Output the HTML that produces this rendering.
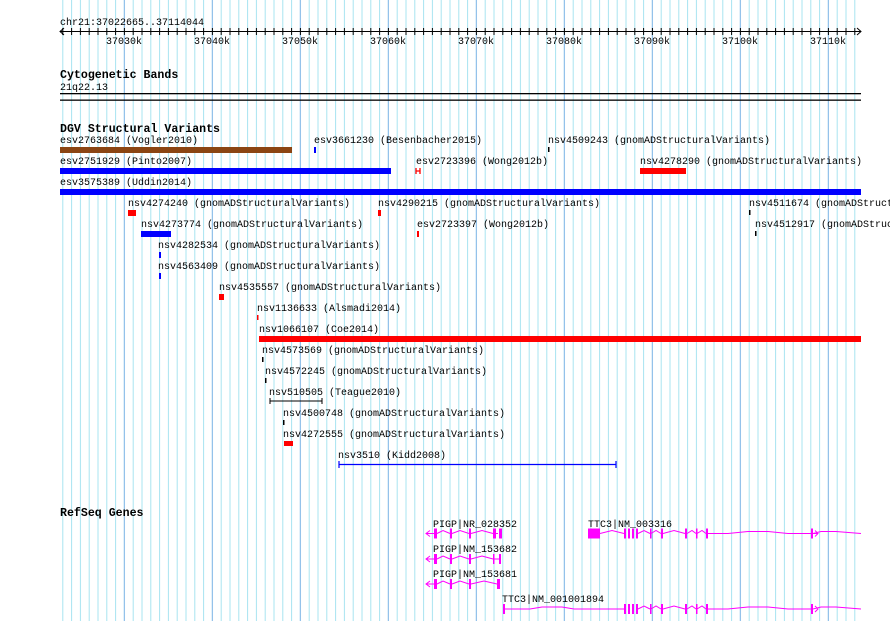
<!DOCTYPE html>
<html><head><meta charset="utf-8"><style>
html,body{margin:0;padding:0;background:#fff}
svg{display:block}
text{font-family:"Liberation Mono",monospace;font-size:10px;fill:#000}
.b{font-weight:bold;font-size:11.6px}
</style></head><body>
<svg width="890" height="621" xmlns="http://www.w3.org/2000/svg">
<defs>
<pattern id="minor" patternUnits="userSpaceOnUse" x="62.3" y="0" width="8.8" height="10"><rect x="0" y="0" width="1" height="10" fill="#a8e4f0"/></pattern>
<pattern id="major" patternUnits="userSpaceOnUse" x="123.8" y="0" width="88" height="10"><rect x="0" y="0" width="1" height="10" fill="#8ab8e8"/></pattern>
<pattern id="tick" patternUnits="userSpaceOnUse" x="62.3" y="0" width="8.8" height="10"><rect x="0" y="0" width="1" height="10" fill="#000"/></pattern>
</defs>
<rect x="60" y="0" width="801" height="621" fill="url(#minor)"/>
<rect x="60" y="0" width="801" height="621" fill="url(#major)"/>

<text x="60" y="25">chr21:37022665..37114044</text>
<rect x="60" y="31" width="801" height="1" fill="#000"/>
<rect x="62" y="28" width="797" height="7" fill="url(#tick)"/>
<path d="M64,28 L60,31.5 L64,35" stroke="#000" fill="none"/>
<path d="M857,28 L861,31.5 L857,35" stroke="#000" fill="none"/>
<g text-anchor="middle">
<text x="124" y="44">37030k</text><text x="212" y="44">37040k</text><text x="300" y="44">37050k</text>
<text x="388" y="44">37060k</text><text x="476" y="44">37070k</text><text x="564" y="44">37080k</text>
<text x="652" y="44">37090k</text><text x="740" y="44">37100k</text><text x="828" y="44">37110k</text>
</g>

<text class="b" x="60" y="78">Cytogenetic Bands</text>
<text x="60" y="90">21q22.13</text>
<rect x="60" y="93" width="801" height="1.3" fill="#000"/>
<rect x="60" y="99.5" width="801" height="1.3" fill="#000"/>

<text class="b" x="60" y="132">DGV Structural Variants</text>
<text x="60" y="143">esv2763684 (Vogler2010)</text>
<rect x="60" y="147" width="232" height="6" fill="#8b4513"/>
<text x="314" y="143">esv3661230 (Besenbacher2015)</text>
<rect x="314" y="147" width="2" height="6" fill="#0000ff"/>
<text x="548" y="143">nsv4509243 (gnomADStructuralVariants)</text>
<rect x="548" y="147" width="1.5" height="5" fill="#000"/>
<text x="60" y="164">esv2751929 (Pinto2007)</text>
<rect x="60" y="168" width="331" height="6" fill="#0000ff"/>
<text x="416" y="164">esv2723396 (Wong2012b)</text>
<path d="M416,168v6M420,168v6M416,171h4" stroke="#ff0000" stroke-width="1.3"/>
<text x="640" y="164">nsv4278290 (gnomADStructuralVariants)</text>
<rect x="640" y="168" width="46" height="6" fill="#ff0000"/>
<text x="60" y="185">esv3575389 (Uddin2014)</text>
<rect x="60" y="189" width="801" height="6" fill="#0000ff"/>
<text x="128" y="206">nsv4274240 (gnomADStructuralVariants)</text>
<rect x="128" y="210" width="8" height="6" fill="#ff0000"/>
<text x="378" y="206">nsv4290215 (gnomADStructuralVariants)</text>
<rect x="378" y="210" width="3" height="6" fill="#ff0000"/>
<text x="749" y="206">nsv4511674 (gnomADStructuralVariants)</text>
<rect x="749" y="210" width="1.5" height="5" fill="#000"/>
<text x="141" y="227">nsv4273774 (gnomADStructuralVariants)</text>
<rect x="141" y="231" width="30" height="6" fill="#0000ff"/>
<text x="417" y="227">esv2723397 (Wong2012b)</text>
<rect x="417" y="231" width="2" height="6" fill="#ff0000"/>
<text x="755" y="227">nsv4512917 (gnomADStructuralVariants)</text>
<rect x="755" y="231" width="1.5" height="5" fill="#000"/>
<text x="158" y="248">nsv4282534 (gnomADStructuralVariants)</text>
<rect x="159" y="252" width="2" height="6" fill="#0000ff"/>
<text x="158" y="269">nsv4563409 (gnomADStructuralVariants)</text>
<rect x="159" y="273" width="2" height="6" fill="#0000ff"/>
<text x="219" y="290">nsv4535557 (gnomADStructuralVariants)</text>
<rect x="219" y="294" width="5" height="6" fill="#ff0000"/>
<text x="257" y="311">nsv1136633 (Alsmadi2014)</text>
<rect x="257" y="315" width="1.5" height="5" fill="#ff0000"/>
<text x="259" y="332">nsv1066107 (Coe2014)</text>
<rect x="259" y="336" width="602" height="6" fill="#ff0000"/>
<text x="262" y="353">nsv4573569 (gnomADStructuralVariants)</text>
<rect x="262" y="357" width="1.5" height="5" fill="#000"/>
<text x="265" y="374">nsv4572245 (gnomADStructuralVariants)</text>
<rect x="265" y="378" width="1.5" height="5" fill="#000"/>
<text x="269" y="395">nsv510505 (Teague2010)</text>
<path d="M270,401h52M270,398v6M322,398v6" stroke="#000" stroke-width="1"/>
<text x="283" y="416">nsv4500748 (gnomADStructuralVariants)</text>
<rect x="283" y="420" width="1.5" height="5" fill="#000"/>
<text x="283" y="437">nsv4272555 (gnomADStructuralVariants)</text>
<rect x="284" y="441" width="9" height="5" fill="#ff0000"/>
<text x="338" y="458">nsv3510 (Kidd2008)</text>
<path d="M339,464.5h277M339,461v7M616,461v7" stroke="#0000ff" stroke-width="1.2"/>

<text class="b" x="60" y="516">RefSeq Genes</text>
<g fill="#ff00ff" stroke="#ff00ff">
<text x="433" y="527" style="fill:#000;stroke:none">PIGP|NR_028352</text>
<g transform="translate(0,533.5)" stroke-width="1">
<path d="M426,0h8M430,-3l-4,3l4,3" fill="none"/>
<path d="M437,0l6,-3l7,3M452,0l8,-3l9,3M471,0l11,-3l11,3M496,0h2" fill="none"/>
<rect x="434" y="-5" width="3" height="10" stroke="none"/><rect x="450" y="-5" width="2" height="10" stroke="none"/>
<rect x="469" y="-5" width="2" height="10" stroke="none"/><rect x="493" y="-5" width="3" height="10" stroke="none"/><rect x="499" y="-5" width="3" height="10" stroke="none"/>
</g>
<text x="433" y="552" style="fill:#000;stroke:none">PIGP|NM_153682</text>
<g transform="translate(0,559)" stroke-width="1">
<path d="M426,0h8M430,-3l-4,3l4,3" fill="none"/>
<path d="M437,0l6,-3l7,3M452,0l8,-3l9,3M471,0l11,-3l11,3M494,0h5" fill="none"/>
<rect x="434" y="-5" width="3" height="10" stroke="none"/><rect x="450" y="-5" width="2" height="10" stroke="none"/>
<rect x="469" y="-5" width="2" height="10" stroke="none"/><rect x="493" y="-5" width="1.5" height="10" stroke="none"/><rect x="499" y="-5" width="2" height="10" stroke="none"/>
</g>
<text x="433" y="577" style="fill:#000;stroke:none">PIGP|NM_153681</text>
<g transform="translate(0,584)" stroke-width="1">
<path d="M426,0h8M430,-3l-4,3l4,3" fill="none"/>
<path d="M437,0l6,-3l7,3M452,0l8,-3l9,3M471,0l13,-3l13,3" fill="none"/>
<rect x="434" y="-5" width="3" height="10" stroke="none"/><rect x="450" y="-5" width="2" height="10" stroke="none"/>
<rect x="469" y="-5" width="2" height="10" stroke="none"/><rect x="497" y="-5" width="3" height="10" stroke="none"/>
</g>
<text x="588" y="527" style="fill:#000;stroke:none">TTC3|NM_003316</text>
<g transform="translate(0,533.5)" stroke-width="1">
<path d="M600,0l12,-3l12,3M638,0l6,-3l6,3M651,0l5,-3l5,3M663,0l11,-3l11,3M687,0l5,-3l4,3M697,0l5,-3l4,3M708,0h20l20,-2h20l20,2h23M813,0l8,-2h15l25,2M813,0h5M815,-3l3,3l-3,3" fill="none"/>
<rect x="588" y="-5" width="12" height="10" stroke="none"/>
<rect x="624" y="-5" width="2" height="10" stroke="none"/><rect x="628" y="-5" width="2" height="10" stroke="none"/><rect x="632" y="-5" width="2" height="10" stroke="none"/><rect x="636" y="-5" width="2" height="10" stroke="none"/>
<rect x="650" y="-5" width="1.5" height="10" stroke="none"/><rect x="661" y="-5" width="2" height="10" stroke="none"/>
<rect x="685" y="-5" width="2" height="10" stroke="none"/><rect x="696" y="-5" width="1.5" height="10" stroke="none"/><rect x="706" y="-5" width="2" height="10" stroke="none"/><rect x="811" y="-5" width="2" height="10" stroke="none"/>
</g>
<text x="502" y="602" style="fill:#000;stroke:none">TTC3|NM_001001894</text>
<g transform="translate(0,609)" stroke-width="1">
<path d="M505,0h25l12,-2h20l12,2h50M638,0l6,-3l6,3M651,0l5,-3l5,3M663,0l11,-3l11,3M687,0l5,-3l4,3M697,0l5,-3l4,3M708,0h20l20,-2h20l20,2h23M813,0l8,-2h15l25,2M815,-3l3,3l-3,3" fill="none"/>
<rect x="503" y="-5" width="2" height="10" stroke="none"/>
<rect x="624" y="-5" width="2" height="10" stroke="none"/><rect x="628" y="-5" width="2" height="10" stroke="none"/><rect x="632" y="-5" width="2" height="10" stroke="none"/><rect x="636" y="-5" width="2" height="10" stroke="none"/>
<rect x="650" y="-5" width="1.5" height="10" stroke="none"/><rect x="661" y="-5" width="2" height="10" stroke="none"/>
<rect x="685" y="-5" width="2" height="10" stroke="none"/><rect x="696" y="-5" width="1.5" height="10" stroke="none"/><rect x="706" y="-5" width="2" height="10" stroke="none"/><rect x="811" y="-5" width="2" height="10" stroke="none"/>
</g>
</g>
</svg>
</body></html>
